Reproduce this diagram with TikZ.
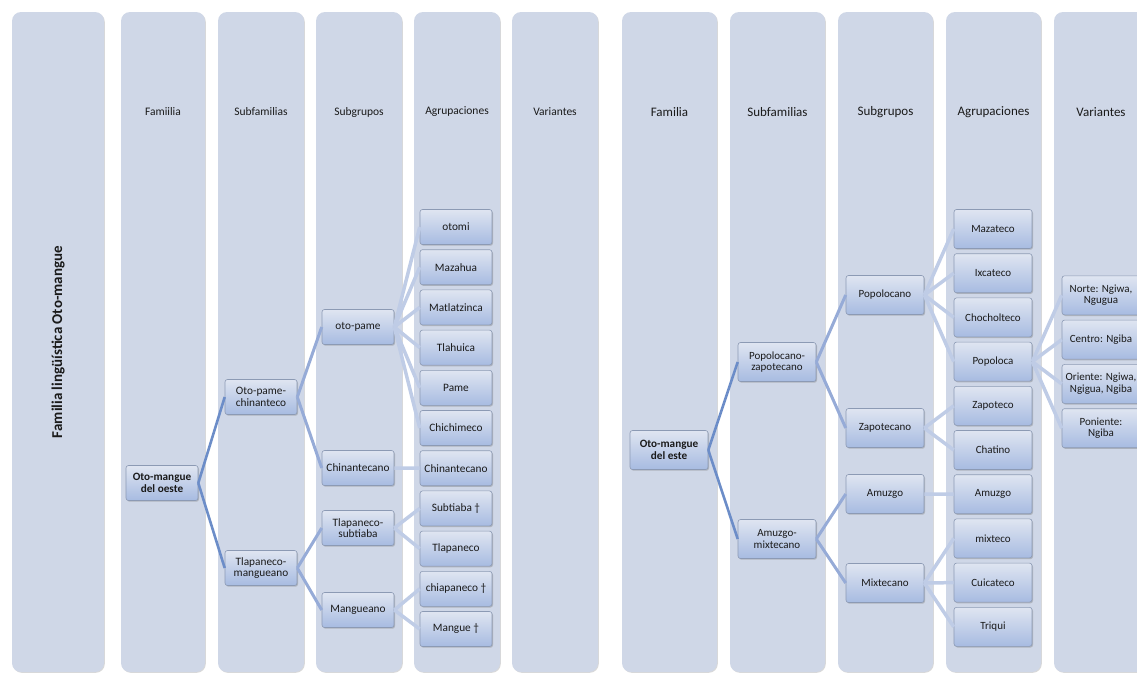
\documentclass[tikz,border=0pt]{standalone}
\usepackage{fontspec}
\setmainfont{Carlito}
\usetikzlibrary{shadows}
\definecolor{colfill}{HTML}{CFD7E7}
\definecolor{boxtop}{HTML}{DFE5F1}
\definecolor{boxbot}{HTML}{A7BBE1}
\definecolor{boxborder}{HTML}{8C9AB4}
\definecolor{lineA}{HTML}{6C8DC8}
\definecolor{lineB}{HTML}{96ABD7}
\definecolor{lineC}{HTML}{BFCCE6}
\definecolor{txt}{HTML}{1A1A1A}
\tikzset{
  column/.style={fill=colfill, rounded corners=9pt, drop shadow={shadow xshift=0.8pt, shadow yshift=-0.8pt, opacity=0.25, fill=black!60}},
  header/.style={text=txt, font=\fontsize{11.5}{13}\selectfont},
  headerR/.style={text=txt, font=\fontsize{13}{15}\selectfont},
  box/.style={draw=boxborder, line width=0.6pt, rounded corners=2.5pt, top color=boxtop, bottom color=boxbot,
    align=center, inner sep=1pt, text=txt, font=\fontsize{11.3}{11.5}\selectfont,
    drop shadow={shadow xshift=1pt, shadow yshift=-1.2pt, opacity=0.35, fill=black!55}},
  boxL/.style={box, minimum width=72pt, minimum height=35pt},
  boxR/.style={box, minimum width=78pt, minimum height=39pt, font=\fontsize{11}{11.5}\selectfont},
  fam/.style={font=\bfseries\fontsize{11.2}{11.5}\selectfont},
  lvA/.style={draw=lineA, line width=2.6pt},
  lvB/.style={draw=lineB, line width=3pt},
  lvC/.style={draw=lineC, line width=3.5pt}
}
\begin{document}
\begin{tikzpicture}[x=1pt,y=-1pt]
\path[use as bounding box] (0,0) rectangle (1137,673);
\clip (0,0) rectangle (1137,673);
% columns
\foreach \a/\b in {12/104,121/205,218/304,316/402,414/500,512/598,622/717,730/825,838/933,946/1041,1054/1149}
  \path[column] (\a,12) rectangle (\b,672);
% title and headers
\node[rotate=90, text=txt, font=\bfseries\fontsize{15}{17}\selectfont] (title) at (58,342) {Familia lingüística Oto-mangue};
\node[header] (h1) at (163,112) {Famiilia};
\node[header] (h2) at (261,112) {Subfamilias};
\node[header] (h3) at (359,112) {Subgrupos};
\node[header] (h4) at (457,112) {Agrupaciones};
\node[header] (h5) at (555,112) {Variantes};
\node[headerR] (h6) at (669.5,112) {Familia};
\node[headerR] (h7) at (777.5,112) {Subfamilias};
\node[headerR] (h8) at (885.5,112) {Subgrupos};
\node[headerR] (h9) at (993.5,112) {Agrupaciones};
\node[headerR] (h10) at (1101,112) {Variantes};
% left tree
\node[boxL, fam] (fo) at (162,483) {Oto-mangue\\del oeste};
\node[boxL] (s1) at (261,397) {Oto-pame-\\chinanteco};
\node[boxL] (s2) at (261,568) {Tlapaneco-\\mangueano};
\node[boxL] (g1) at (358,327) {oto-pame};
\node[boxL] (g2) at (358,468) {Chinantecano};
\node[boxL] (g3) at (358,528) {Tlapaneco-\\subtiaba};
\node[boxL] (g4) at (358,610) {Mangueano};
\node[boxL] (a1) at (456,227) {otomi};
\node[boxL] (a2) at (456,267.2) {Mazahua};
\node[boxL] (a3) at (456,307.4) {Matlatzinca};
\node[boxL] (a4) at (456,347.6) {Tlahuica};
\node[boxL] (a5) at (456,387.8) {Pame};
\node[boxL] (a6) at (456,428) {Chichimeco};
\node[boxL] (a7) at (456,468.2) {Chinantecano};
\node[boxL] (a8) at (456,508.4) {Subtiaba †};
\node[boxL] (a9) at (456,548.6) {Tlapaneco};
\node[boxL] (a10) at (456,588.8) {chiapaneco †};
\node[boxL] (a11) at (456,629) {Mangue †};
% right tree
\node[boxR, fam] (fe) at (669,450) {Oto-mangue\\del este};
\node[boxR] (r1) at (777,362) {Popolocano-\\zapotecano};
\node[boxR] (r2) at (777,539) {Amuzgo-\\mixtecano};
\node[boxR] (q1) at (885,295) {Popolocano};
\node[boxR] (q2) at (885,428) {Zapotecano};
\node[boxR] (q3) at (885,494) {Amuzgo};
\node[boxR] (q4) at (885,583) {Mixtecano};
\node[boxR] (b1) at (993,229) {Mazateco};
\node[boxR] (b2) at (993,273.2) {Ixcateco};
\node[boxR] (b3) at (993,317.4) {Chocholteco};
\node[boxR] (b4) at (993,361.6) {Popoloca};
\node[boxR] (b5) at (993,405.8) {Zapoteco};
\node[boxR] (b6) at (993,450) {Chatino};
\node[boxR] (b7) at (993,494.2) {Amuzgo};
\node[boxR] (b8) at (993,538.4) {mixteco};
\node[boxR] (b9) at (993,582.6) {Cuicateco};
\node[boxR] (b10) at (993,626.8) {Triqui};
\node[boxR] (v1) at (1101,295.3) {Norte: Ngiwa,\\Ngugua};
\node[boxR] (v2) at (1101,339.6) {Centro: Ngiba};
\node[boxR] (v3) at (1101,383.9) {Oriente: Ngiwa,\\Ngigua, Ngiba};
\node[boxR] (v4) at (1101,428.2) {Poniente:\\Ngiba};
% connectors
\foreach \t in {s1,s2} \draw[lvA] (fo.east) -- (\t.west);
\foreach \t in {g1,g2} \draw[lvB] (s1.east) -- (\t.west);
\foreach \t in {g3,g4} \draw[lvB] (s2.east) -- (\t.west);
\foreach \t in {a1,a2,a3,a4,a5,a6} \draw[lvC] (g1.east) -- (\t.west);
\draw[lvC] (g2.east) -- (a7.west);
\foreach \t in {a8,a9} \draw[lvC] (g3.east) -- (\t.west);
\foreach \t in {a10,a11} \draw[lvC] (g4.east) -- (\t.west);
\foreach \t in {r1,r2} \draw[lvA] (fe.east) -- (\t.west);
\foreach \t in {q1,q2} \draw[lvB] (r1.east) -- (\t.west);
\foreach \t in {q3,q4} \draw[lvB] (r2.east) -- (\t.west);
\foreach \t in {b1,b2,b3,b4} \draw[lvC] (q1.east) -- (\t.west);
\foreach \t in {b5,b6} \draw[lvC] (q2.east) -- (\t.west);
\draw[lvC] (q3.east) -- (b7.west);
\foreach \t in {b8,b9,b10} \draw[lvC] (q4.east) -- (\t.west);
\foreach \t in {v1,v2,v3,v4} \draw[lvC] (b4.east) -- (\t.west);
\end{tikzpicture}
\end{document}
